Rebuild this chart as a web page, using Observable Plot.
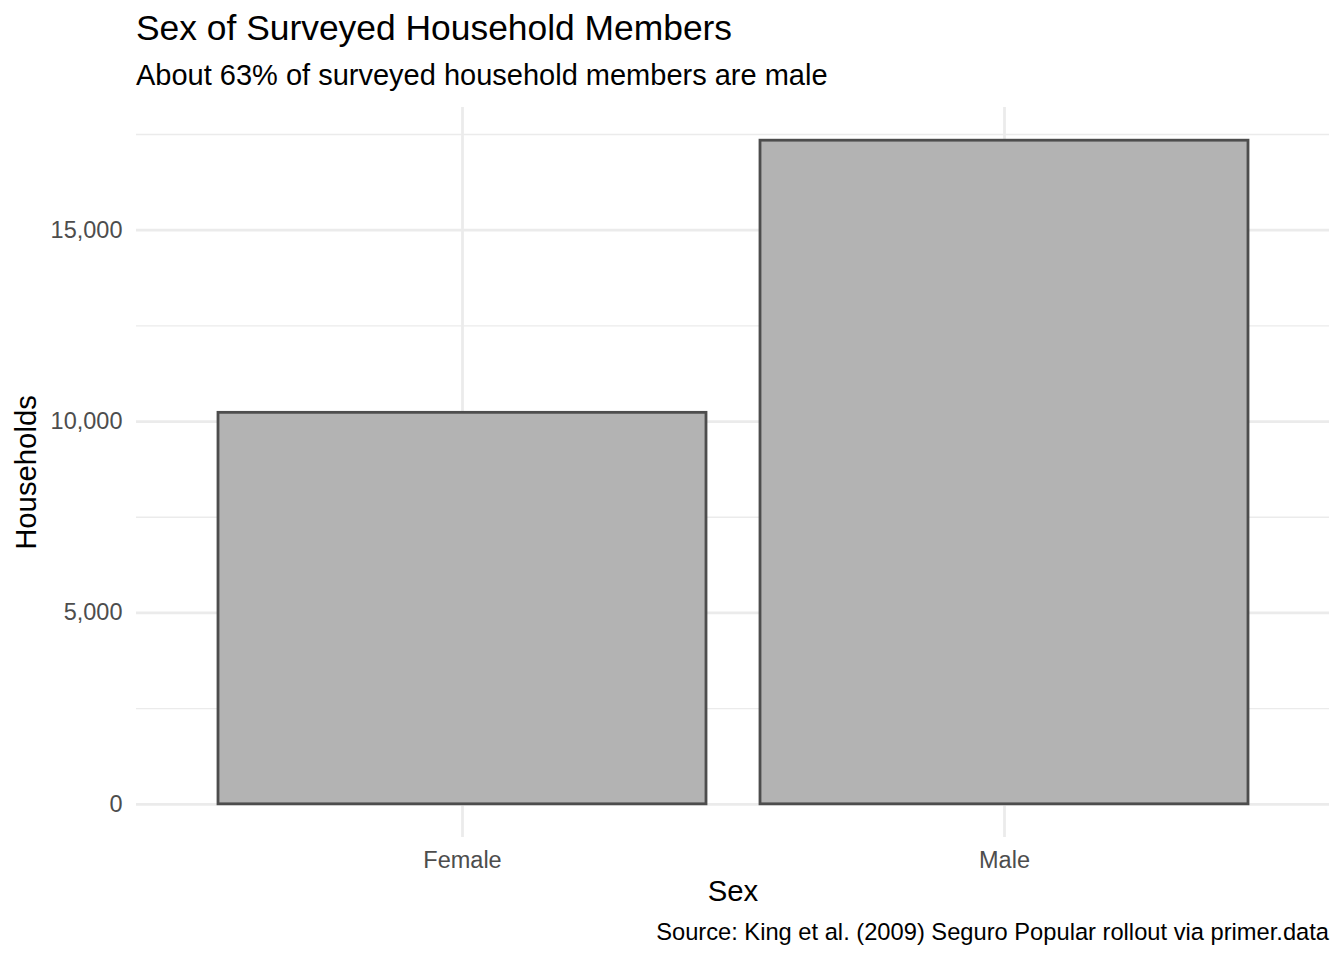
<!DOCTYPE html>
<html>
<head>
<meta charset="utf-8">
<script src="https://cdn.jsdelivr.net/npm/d3@7"></script>
<script src="https://cdn.jsdelivr.net/npm/@observablehq/plot@0.6"></script>
<style>
  body { margin: 0; background: #fff; width: 1344px; height: 960px; position: relative; overflow: hidden;
         font-family: "Liberation Sans", Arial, Helvetica, sans-serif; }
  .t { position: absolute; white-space: nowrap; line-height: 1; margin: 0; }
  #title { left: 136px; top: 11.2px; font-size: 35.4px; color: #000; }
  #subtitle { left: 136px; top: 61px; font-size: 29px; color: #000; }
  #caption { right: 15px; top: 921px; font-size: 23.7px; color: #000; }
  #chart { position: absolute; left: 0; top: 100px; }
</style>
</head>
<body>
<div class="t" id="title">Sex of Surveyed Household Members</div>
<div class="t" id="subtitle">About 63% of surveyed household members are male</div>
<div id="chart"></div>
<div class="t" id="caption">Source: King et al. (2009) Seguro Popular rollout via primer.data</div>
<script>
const sexes = ["Female", "Male"];
const households = [10227, 17337];
const majorTicks = [0, 5000, 10000, 15000];
const minorTicks = [2500, 7500, 12500, 17500];
const xLabel = "Sex";
const yLabel = "Households";

const data = sexes.map((s, i) => ({sex: s, n: households[i]}));
const ymax = d3.max(households);
const pad = ymax * 0.05;

const chart = Plot.plot({
  width: 1344,
  height: 820,
  marginLeft: 136,
  marginRight: 15,
  marginTop: 7,
  marginBottom: 83,
  style: {fontFamily: '"Liberation Sans", Arial, Helvetica, sans-serif', fontSize: "23.5px", background: "#fff"},
  x: {type: "band", domain: sexes, paddingInner: 0.1, paddingOuter: 0.15, label: null},
  y: {domain: [-pad, ymax + pad], label: null},
  marks: [
    Plot.ruleY(minorTicks, {stroke: "#EBEBEB", strokeWidth: 1.4}),
    Plot.ruleY(majorTicks, {stroke: "#EBEBEB", strokeWidth: 2.8}),
    Plot.gridX(sexes, {stroke: "#EBEBEB", strokeOpacity: 1, strokeWidth: 2.8}),
    Plot.barY(data, {x: "sex", y1: 0, y2: "n", fill: "#B3B3B3", stroke: "#4D4D4D", strokeWidth: 2.8}),
    Plot.axisY(majorTicks, {tickSize: 0, tickPadding: 14, tickFormat: d3.format(","), fill: "#4D4D4D", fontSize: 23.5, label: null}),
    Plot.axisX(sexes, {tickSize: 0, tickPadding: 13.6, fill: "#4D4D4D", fontSize: 23.5, label: null}),
    Plot.text([xLabel], {frameAnchor: "bottom", dy: 63, fontSize: 29.3, fill: "#000", text: d => d}),
    Plot.text([yLabel], {frameAnchor: "left", dx: -110, rotate: -90, textAnchor: "middle", fontSize: 29.3, fill: "#000", text: d => d})
  ]
});
document.getElementById("chart").appendChild(chart);
</script>
</body>
</html>
